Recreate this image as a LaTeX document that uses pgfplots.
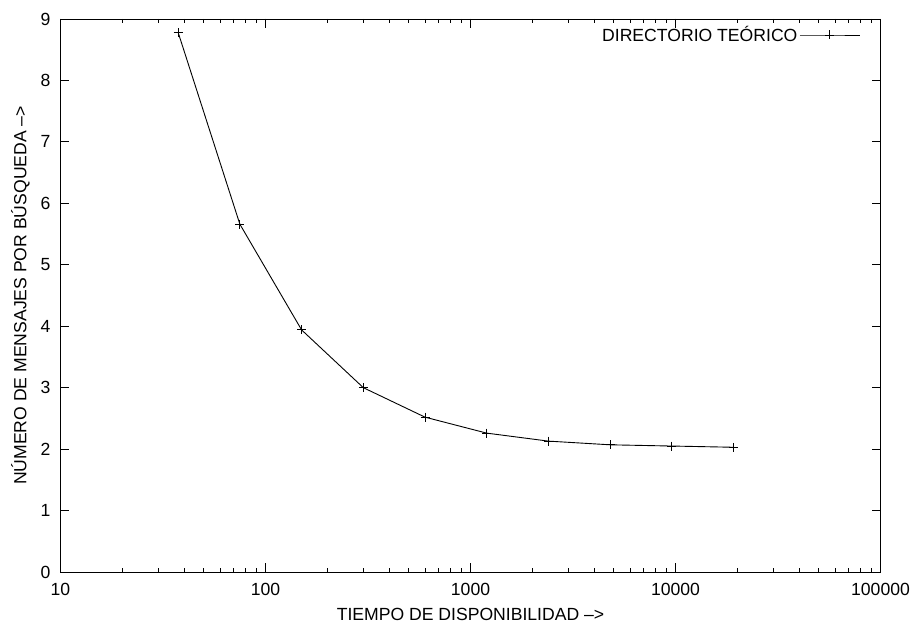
\documentclass[border=0pt]{standalone}
\usepackage{fontspec}
\setmainfont{Liberation Sans}
\usepackage{pgfplots}
\pgfplotsset{compat=1.18}
\begin{document}
\fontsize{17.6bp}{20bp}\selectfont
\begin{tikzpicture}
\useasboundingbox (-60.5bp,-52bp) rectangle (851.5bp,572bp);
\begin{axis}[
  at={(0,0)}, anchor=south west,
  scale only axis, width=820bp, height=553bp,
  xmode=log, xmin=10, xmax=100000, ymin=0, ymax=9,
  ytick={0,1,2,3,4,5,6,7,8,9},
  xtick={10,100,1000,10000,100000},
  xticklabels={10,100,1000,10000,100000},
  /pgf/number format/assume math mode=true,
  tick align=inside,
  major tick length=9bp, minor tick length=4.5bp,
  every tick/.style={black, line width=0.8bp},
  axis line style={line width=0.9bp},
  tick label style={font=\fontsize{17.6bp}{20bp}\selectfont},
  yticklabel style={xshift=-4bp},
  xticklabel style={yshift=-5bp},
  xlabel={TIEMPO DE DISPONIBILIDAD –>},
  ylabel={NÚMERO DE MENSAJES POR BÚSQUEDA –>},
  label style={font=\fontsize{17.6bp}{20bp}\selectfont},
  xlabel style={at={(axis description cs:0.5,-0.076)}, anchor=center},
  ylabel style={at={(axis description cs:-0.0488,0.5)}, anchor=center},
  legend plot pos=right,
  legend style={draw=none, fill=none, at={(axis description cs:1,1)}, anchor=east,
    xshift=-20bp, yshift=-16bp, font=\fontsize{17.6bp}{20bp}\selectfont,
    inner sep=0pt, row sep=0pt},
  legend image code/.code={\draw[mark repeat=2,mark phase=2] plot coordinates {(0bp,0bp) (30bp,0bp) (60bp,0bp)};},
]
\addplot[black, line width=0.9bp, mark=+, mark size=4.5bp, mark options={line width=0.9bp}] coordinates {
(37.5,8.78) (75,5.66) (150,3.94) (300,3.00) (600,2.52) (1200,2.26) (2400,2.13) (4800,2.07) (9600,2.05) (19200,2.03)
};
\addlegendentry{DIRECTORIO TEÓRICO}
\end{axis}
\end{tikzpicture}
\end{document}
